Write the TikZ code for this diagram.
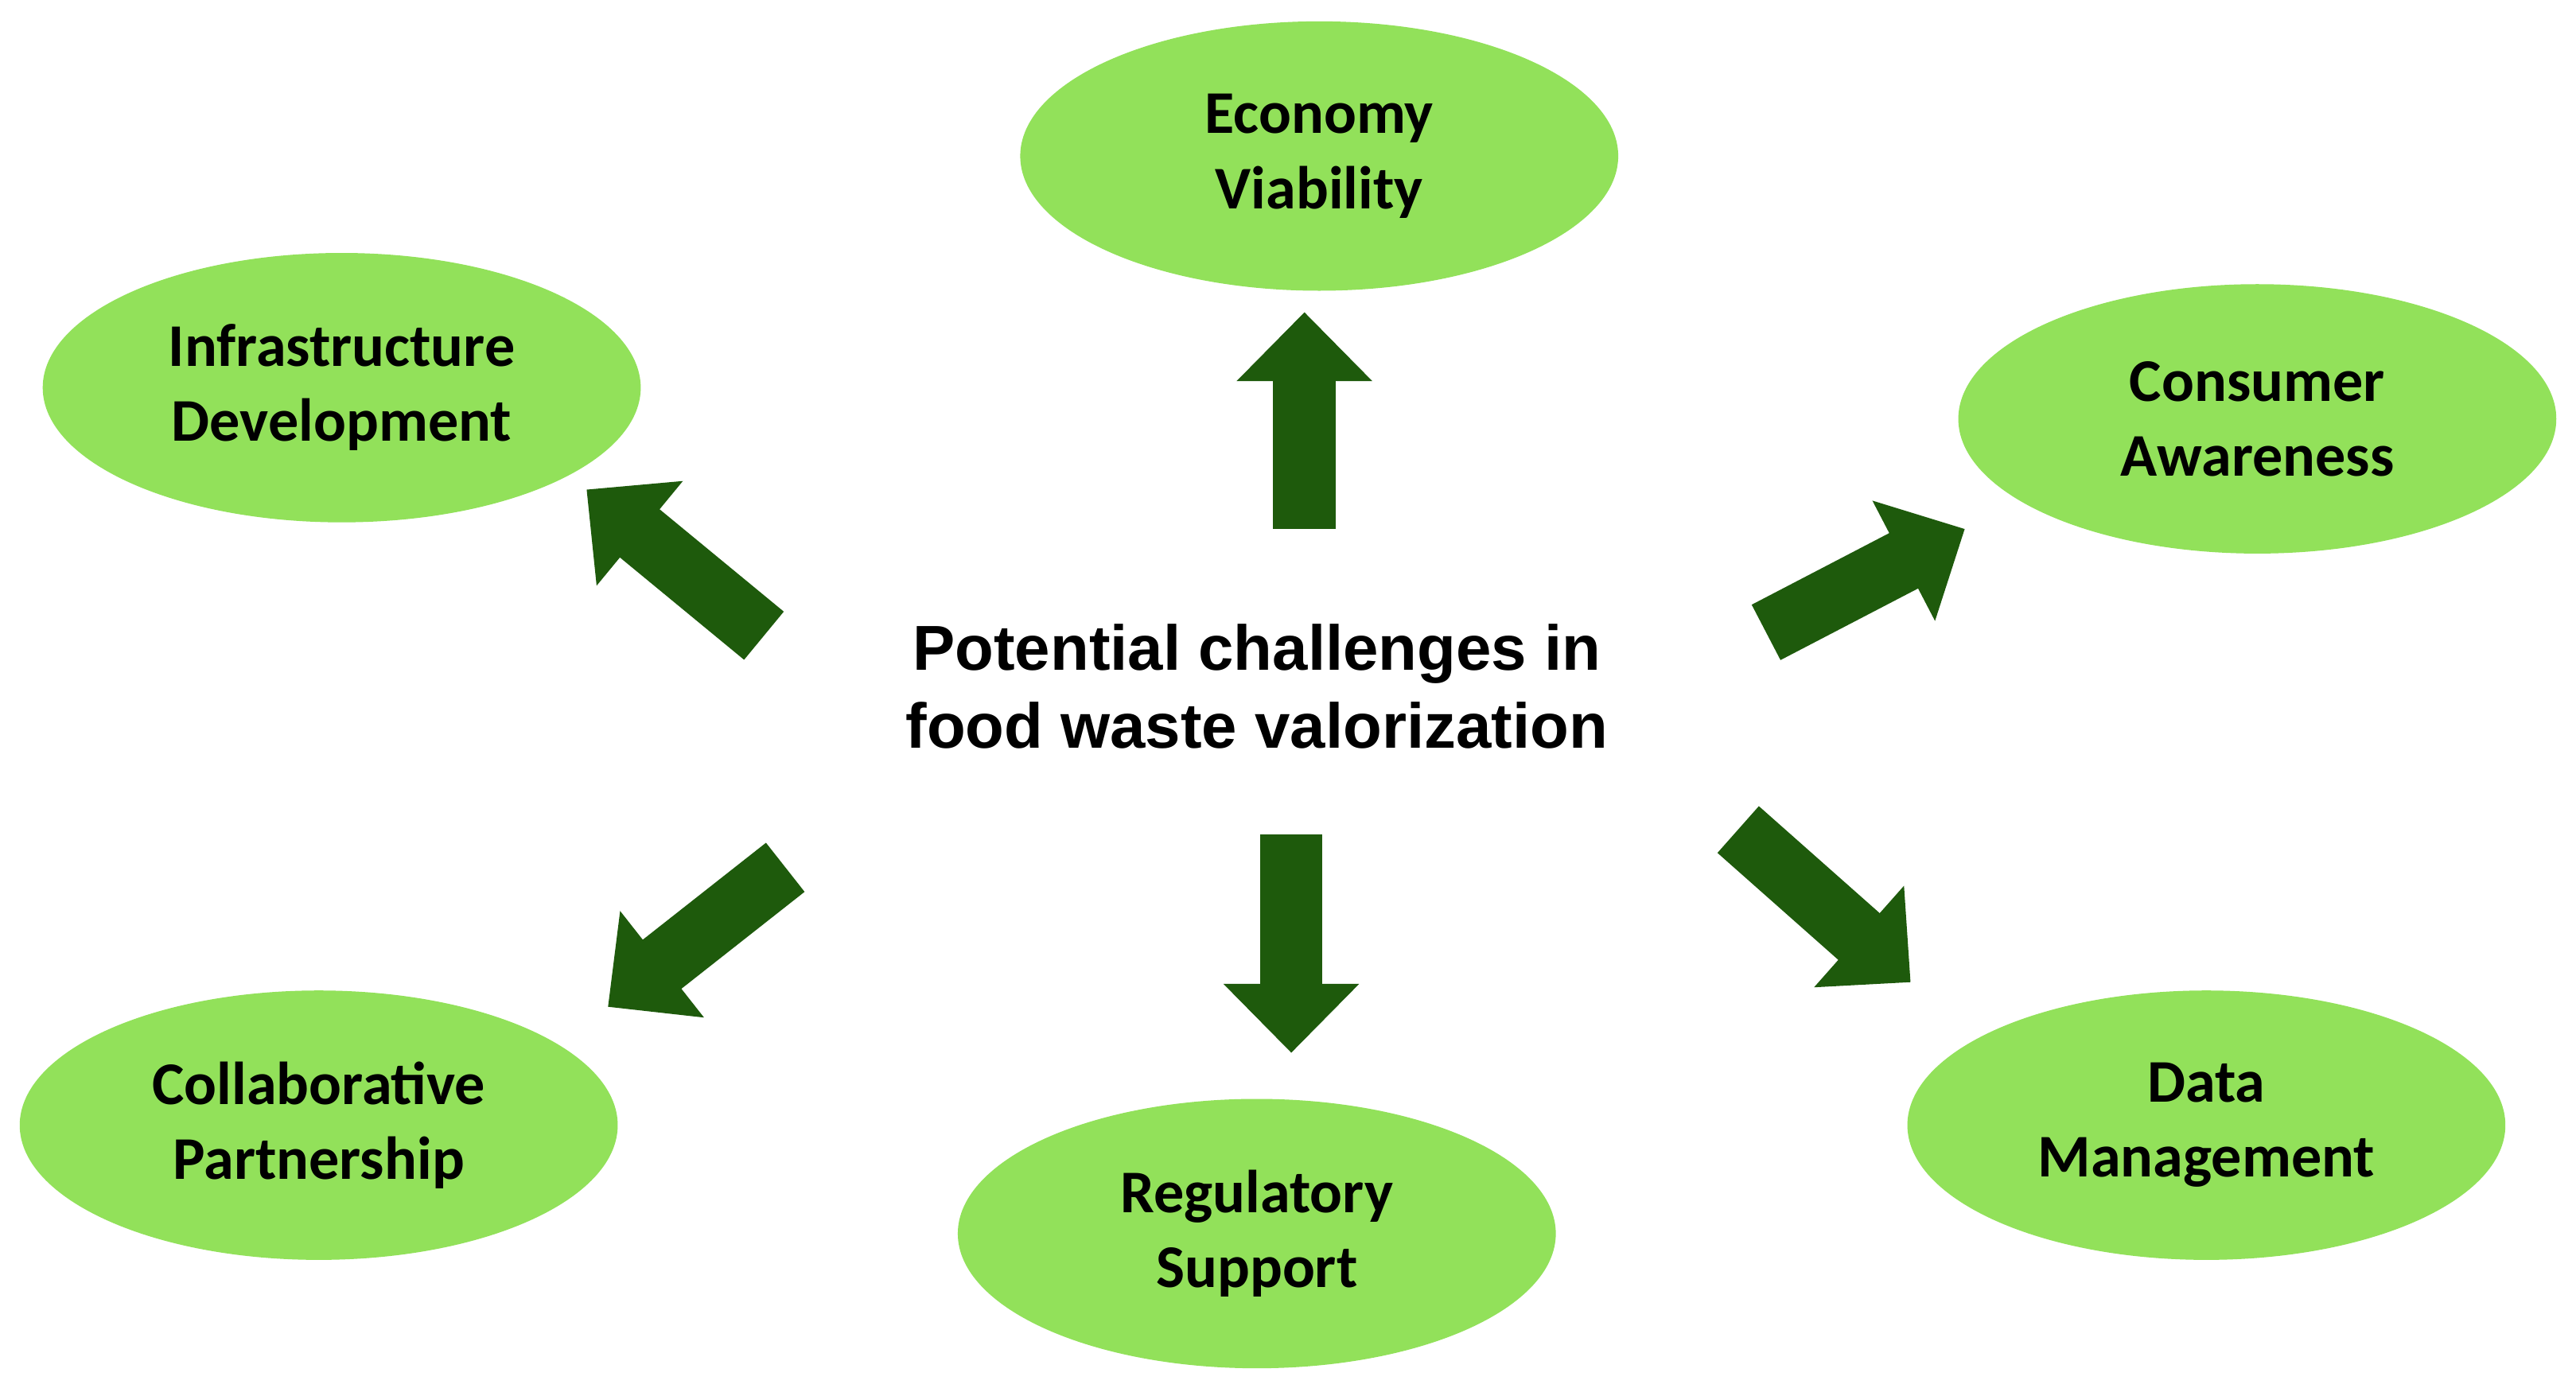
\documentclass[tikz,border=0pt]{standalone}
\usepackage{fontspec}
\setmainfont{Carlito}
\newfontfamily\arialb{Liberation Sans}
\usetikzlibrary{arrows.meta,shapes.geometric}
\definecolor{lgreen}{HTML}{92E15A}
\definecolor{dgreen}{HTML}{1E5A0C}
\begin{document}
\begin{tikzpicture}[x=0.02cm,y=-0.02cm,
  ell/.style={draw=none,fill=lgreen,ellipse,minimum width=364*0.02cm,minimum height=164*0.02cm,align=center,font=\fontsize{21}{26}\selectfont\bfseries},
  blk/.style={draw=dgreen,line width=38*0.02cm,-{Triangle[length=42*0.02cm,width=80*0.02cm]}}]
\useasboundingbox (0,0) rectangle (1568,847);
\node[ell] (eco) at (803,95) {Economy\\Viability};
\node[ell] (inf) at (208,236) {Infrastructure\\Development};
\node[ell] (con) at (1374,255) {Consumer\\Awareness};
\node[ell] (col) at (194,685) {Collaborative\\Partnership};
\node[ell] (reg) at (765,751) {Regulatory\\Support};
\node[ell] (dat) at (1343,685) {Data\\Management};
\node[align=center,font=\arialb\fontsize{22}{27}\selectfont\bfseries] (c) at (765,418) {Potential challenges in\\food waste valorization};
\coordinate (a1) at (794,322); \coordinate (b1) at (794,190);
\coordinate (a2) at (465,387); \coordinate (b2) at (357,298);
\coordinate (a3) at (1075,385); \coordinate (b3) at (1196,322);
\coordinate (a4) at (478,528); \coordinate (b4) at (370,613);
\coordinate (a5) at (786,508); \coordinate (b5) at (786,641);
\coordinate (a6) at (1058,505); \coordinate (b6) at (1163,598);
\foreach \i in {1,...,6} \draw[blk] (a\i) -- (b\i);
\end{tikzpicture}
\end{document}
